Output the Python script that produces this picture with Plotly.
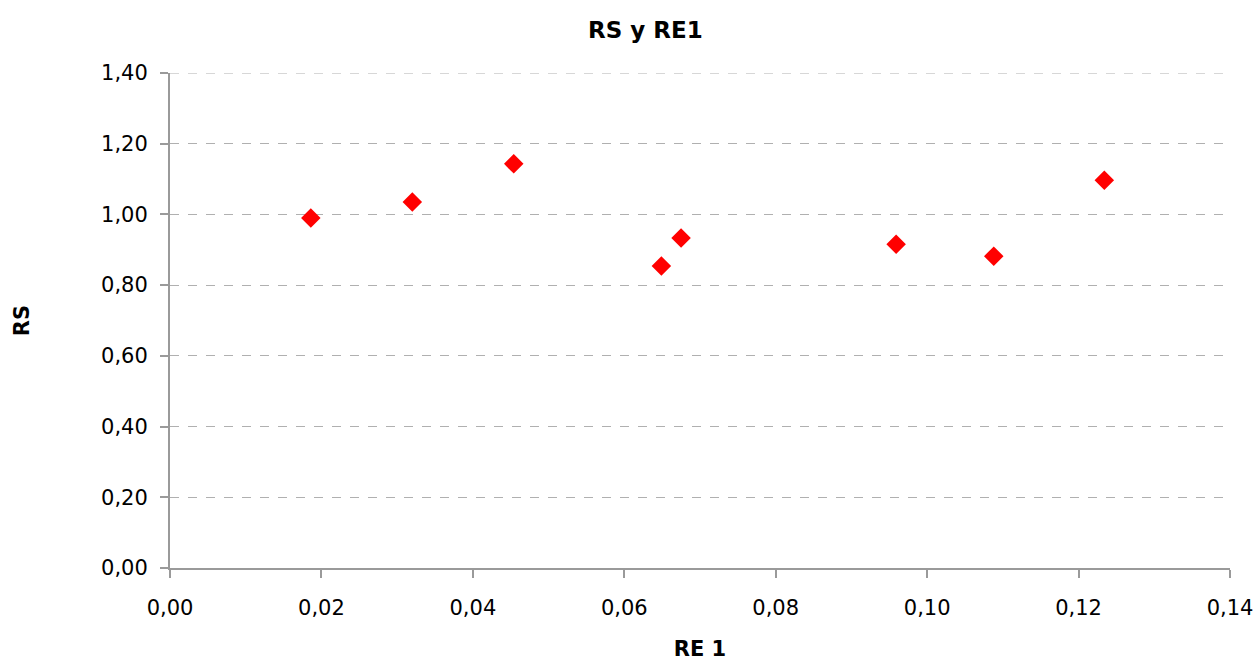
import plotly.graph_objects as go

# RE 1 vs RS observations
re1 = [0.0186, 0.0320, 0.0454, 0.0649, 0.0675, 0.0959, 0.1088, 0.1234]
rs = [0.990, 1.035, 1.143, 0.854, 0.933, 0.916, 0.882, 1.097]

x_ticks = [0.00, 0.02, 0.04, 0.06, 0.08, 0.10, 0.12, 0.14]
y_ticks = [0.00, 0.20, 0.40, 0.60, 0.80, 1.00, 1.20, 1.40]

font_family = "DejaVu Sans"
axis_color = "#9a9a9a"
grid_color = "#b0b0b0"

fig = go.Figure(
    go.Scatter(
        x=re1,
        y=rs,
        mode="markers",
        marker=dict(symbol="diamond", size=15, color="#ff0000"),
        showlegend=False,
    )
)

fig.update_layout(
    width=1258,
    height=661,
    margin=dict(l=170, r=28, t=73, b=93, autoexpand=False),
    paper_bgcolor="white",
    plot_bgcolor="white",
    separators=",.",
    font=dict(family=font_family, color="black", size=21),
    title=dict(
        text="<b>RS y RE1</b>",
        x=0.513,
        xanchor="center",
        xref="container",
        y=0.955,
        yanchor="middle",
        font=dict(family=font_family, size=23, color="black"),
    ),
)

# dashed gridline along the top of the value axis
fig.add_shape(
    type="line",
    xref="paper",
    x0=0,
    x1=1,
    yref="y",
    y0=y_ticks[-1],
    y1=y_ticks[-1],
    line=dict(color=grid_color, width=1, dash="dash"),
    layer="below",
)

fig.update_xaxes(
    range=[0, 0.14],
    tickvals=x_ticks,
    tickformat=".2f",
    showgrid=False,
    zeroline=False,
    showline=True,
    linecolor=axis_color,
    linewidth=2,
    ticks="outside",
    ticklen=8,
    tickwidth=2,
    tickcolor=axis_color,
    tickfont=dict(size=21),
    ticklabelstandoff=12,
    automargin=False,
    title=dict(text="<b>RE 1</b>", font=dict(size=21), standoff=22),
)

fig.update_yaxes(
    range=[0, 1.40],
    tickvals=y_ticks,
    tickformat=".2f",
    showgrid=True,
    gridcolor=grid_color,
    griddash="dash",
    gridwidth=1,
    zeroline=False,
    showline=True,
    linecolor=axis_color,
    linewidth=2,
    ticks="outside",
    ticklen=8,
    tickwidth=2,
    tickcolor=axis_color,
    tickfont=dict(size=21),
    ticklabelstandoff=8,
    automargin=False,
    title=dict(text="<b>RS</b>", font=dict(size=21), standoff=66),
)

fig.write_html("out.html")
